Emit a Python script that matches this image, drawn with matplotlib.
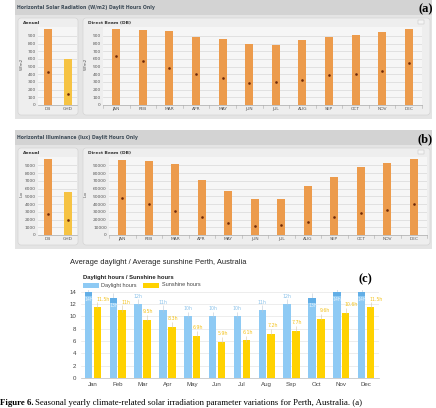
import matplotlib
matplotlib.use("Agg")
import matplotlib.pyplot as plt
from matplotlib.patches import FancyBboxPatch, Rectangle
import numpy as np

W, H = 436, 408

# ---- data ----
months_up = ["JAN", "FEB", "MAR", "APR", "MAY", "JUN",
             "JUL", "AUG", "SEP", "OCT", "NOV", "DEC"]
months = ["Jan", "Feb", "Mar", "Apr", "May", "Jun",
          "Jul", "Aug", "Sep", "Oct", "Nov", "Dec"]

# (a) horizontal solar radiation, W/m2
rad_annual_cats = ["DB", "GHD"]
rad_annual_bar = [990, 605]
rad_annual_dot = [430, 145]
rad_db_bar = [986, 974, 965, 891, 865, 800, 779, 852, 883, 909, 948, 991]
rad_db_dot = [632, 571, 485, 402, 346, 290, 299, 325, 389, 402, 441, 541]

# (b) horizontal illuminance, lux
lux_annual_cats = ["DB", "GHD"]
lux_annual_bar = [9830, 5600]
lux_annual_dot = [2750, 1900]
lux_db_bar = [96800, 95900, 91700, 71000, 57000, 46000,
              46000, 63000, 74800, 87500, 93800, 98000]
lux_db_dot = [47700, 40100, 30800, 22800, 16100, 12300,
              13500, 16900, 23700, 28700, 33000, 39700]

# (c) daylight / sunshine hours
daylight = [14, 13, 12, 11, 10, 10, 10, 11, 12, 13, 14, 14]
sunshine = [11.5, 11.0, 9.5, 8.3, 6.9, 5.9, 6.1, 7.2, 7.7, 9.6, 10.6, 11.5]

ORANGE = "#EC9B4C"
YELLOW = "#F6C343"
DOT = "#6E2A0A"
BLUE = "#8ECAF4"
SUN = "#FFD200"

fig = plt.figure(figsize=(W / 100, H / 100), dpi=100)
fig.patch.set_facecolor("white")

bg = fig.add_axes([0, 0, 1, 1], zorder=0)
bg.set_xlim(0, W)
bg.set_ylim(H, 0)
bg.axis("off")


def px_axes(x0, y0, x1, y1):
    return fig.add_axes([x0 / W, 1 - y1 / H, (x1 - x0) / W, (y1 - y0) / H], zorder=2)


def box(x0, y0, x1, y1, fc, r=3):
    bg.add_patch(FancyBboxPatch((x0, y0), x1 - x0, y1 - y0,
                                boxstyle=f"round,pad=0,rounding_size={r}",
                                fc=fc, ec="#cfcfcf", lw=0.4))


def style_small(ax, ymax, yticks, ylabels, xlabels):
    ax.set_facecolor("#f6f6f6")
    ax.set_ylim(0, ymax)
    ax.set_yticks(yticks)
    ax.set_yticklabels(ylabels)
    ax.set_xticks(range(len(xlabels)))
    ax.set_xticklabels(xlabels)
    ax.tick_params(labelsize=3.2, colors="#555555", length=0, pad=1.5)
    ax.grid(axis="y", color="#d9d9d9", lw=0.5)
    ax.set_axisbelow(True)
    for s in ax.spines.values():
        s.set_visible(False)
    ax.spines["bottom"].set_visible(True)
    ax.spines["bottom"].set_color("#aaaaaa")
    ax.spines["bottom"].set_linewidth(0.5)


def budget_panel(top, title, tag, ann_cats, ann_bar, ann_dot, db_bar, db_dot,
                 ann_max, ann_ticks, ann_labels, db_max, db_ticks, db_labels,
                 ylab, ann_x0, db_x0, db_x1):
    # outer frame and title strip
    bg.add_patch(Rectangle((15, top), 417, 119, fc="#e4e4e4", ec="none"))
    bg.add_patch(Rectangle((15, top), 417, 15, fc="#d3d3d3", ec="none"))
    bg.text(17, top + 8, title, fontsize=3.3, fontweight="bold",
            color="#3d4b57", va="center")
    bg.text(433, top + 9, tag, fontsize=9, fontweight="bold",
            family="Liberation Serif", ha="right", va="center")
    box(18, top + 18, 78, top + 115, "#eeeeee")
    box(83, top + 18, 430, top + 115, "#eeeeee")
    bg.text(23, top + 23, "Annual", fontsize=3.2, fontweight="bold",
            color="#333333", va="center")
    bg.text(88, top + 23, "Direct Beam (DB)", fontsize=3.2, fontweight="bold",
            color="#333333", va="center")
    bg.add_patch(Rectangle((418, top + 20), 6, 4, fc="#f5f5f5", ec="#bbbbbb", lw=0.3))
    bg.text(22, top + 64, ylab, fontsize=3, rotation=90, color="#555555",
            ha="center", va="center")
    bg.text(86, top + 64, ylab, fontsize=3, rotation=90, color="#555555",
            ha="center", va="center")

    y_axis_top = top + 27
    y_axis_bot = top + 105

    ax1 = px_axes(ann_x0, y_axis_top, 77, y_axis_bot)
    ax1.bar(range(len(ann_cats)), ann_bar, width=0.4, color=[ORANGE, YELLOW])
    ax1.plot(range(len(ann_cats)), ann_dot, "s", color=DOT, ms=0.8)
    ax1.set_xlim(-0.5, 1.45)
    style_small(ax1, ann_max, ann_ticks, ann_labels, ann_cats)

    ax2 = px_axes(db_x0, y_axis_top, db_x1, y_axis_bot)
    x = np.arange(len(months_up))
    ax2.bar(x, db_bar, width=0.3, color=ORANGE)
    ax2.plot(x, db_dot, "s", color=DOT, ms=0.8)
    ax2.set_xlim(-0.5, 11.5)
    style_small(ax2, db_max, db_ticks, db_labels, months_up)
    for xi in np.arange(-0.5, 12, 1.0):
        ax2.axvline(xi, ymin=-0.04, ymax=0, color="#aaaaaa", lw=0.4, clip_on=False)


r_ticks = list(range(0, 1000, 100))
budget_panel(0, "Horizontal Solar Radiation (W/m2) Daylit Hours Only", "(a)",
             rad_annual_cats, rad_annual_bar, rad_annual_dot, rad_db_bar, rad_db_dot,
             1015, r_ticks, [str(v) for v in r_ticks],
             1015, r_ticks, [str(v) for v in r_ticks],
             "W/m2", 38, 103, 422)

la_ticks = list(range(0, 10000, 1000))
ld_ticks = list(range(0, 100000, 10000))
budget_panel(130, "Horizontal Illuminance (lux) Daylit Hours Only", "(b)",
             lux_annual_cats, lux_annual_bar, lux_annual_dot, lux_db_bar, lux_db_dot,
             10100, la_ticks, [str(v) for v in la_ticks],
             101000, ld_ticks, [str(v) for v in ld_ticks],
             "lux", 38, 109, 427)

# ---- (c) daylight / sunshine ----
bg.text(70, 263, "Average daylight / Average sunshine Perth, Australia",
        fontsize=5.4, color="#222222", va="center", family="Liberation Sans")
bg.text(83, 277, "Daylight hours / Sunshine hours", fontsize=4.2,
        fontweight="bold", color="#222222", va="center", family="Liberation Sans")
bg.add_patch(Rectangle((83, 282.5), 16, 5, fc=BLUE, ec="none"))
bg.text(101, 285, "Daylight hours", fontsize=4, color="#444444", va="center",
        family="Liberation Sans")
bg.add_patch(Rectangle((143, 282.5), 16, 5, fc=SUN, ec="none"))
bg.text(162, 285, "Sunshine hours", fontsize=4, color="#444444", va="center",
        family="Liberation Sans")
bg.text(372, 279, "(c)", fontsize=9, fontweight="bold", family="Liberation Serif",
        ha="right", va="center")

axc = px_axes(80.5, 290, 378.5, 378)
x = np.arange(len(months))
off = 0.18
axc.bar(x - off, daylight, width=0.3, color=BLUE, zorder=2)
axc.bar(x + off, sunshine, width=0.3, color=SUN, zorder=2)
axc.errorbar(x - off, daylight, yerr=[[0.2] * 12, [0.8] * 12], fmt="none",
             ecolor="#b9c9d6", elinewidth=0.4, capsize=0, zorder=3)
axc.errorbar(x + off, sunshine, yerr=[[0.2] * 12, [0.8] * 12], fmt="none",
             ecolor="#d9c9a0", elinewidth=0.4, capsize=0, zorder=3)
for xi, d, s in zip(x, daylight, sunshine):
    if d >= 13:
        axc.add_patch(Rectangle((xi - off - 0.15, d - 0.75), 0.3, 0.75,
                                fc="#62aee6", ec="none", zorder=4))
        axc.text(xi - off + 0.02, d - 1.2, f"{d}h", fontsize=3.3, color="#e8f4fd",
                 ha="center", va="center", zorder=5)
        axc.text(xi + off - 0.04, s + 1.3, f"{s:g}h", fontsize=3.3, color="#f3c21b",
                 ha="left", va="center", zorder=5)
    else:
        axc.text(xi - off, d + 1.3, f"{d}h", fontsize=3.4, color="#8cc3ea",
                 ha="center", va="center", zorder=5)
        axc.text(xi + off + 0.05, s + 1.3, f"{s:g}h", fontsize=3.4, color="#f3c21b",
                 ha="center", va="center", zorder=5)
axc.set_xlim(-0.5, 11.5)
axc.set_ylim(0, 14.3)
axc.set_yticks(range(0, 15, 2))
axc.set_xticks(x)
axc.set_xticklabels(months)
axc.tick_params(labelsize=4.4, colors="#444444", length=0, pad=3)
axc.grid(axis="y", color="#e6e6e6", lw=0.5)
axc.set_axisbelow(True)
for s in axc.spines.values():
    s.set_visible(False)
axc.spines["bottom"].set_visible(True)
axc.spines["bottom"].set_color("#bbbbbb")
axc.spines["bottom"].set_linewidth(0.5)
for lab in axc.get_xticklabels() + axc.get_yticklabels():
    lab.set_family("Liberation Sans")

# ---- caption ----
bg.text(0, 403, "Figure 6.", fontsize=6.3, fontweight="bold",
        family="Liberation Serif", va="center")
bg.text(35, 403, "Seasonal yearly climate-related solar irradiation parameter "
        "variations for Perth, Australia. (a)", fontsize=6.3,
        family="Liberation Serif", va="center")

fig.savefig("out.png", dpi=100)
